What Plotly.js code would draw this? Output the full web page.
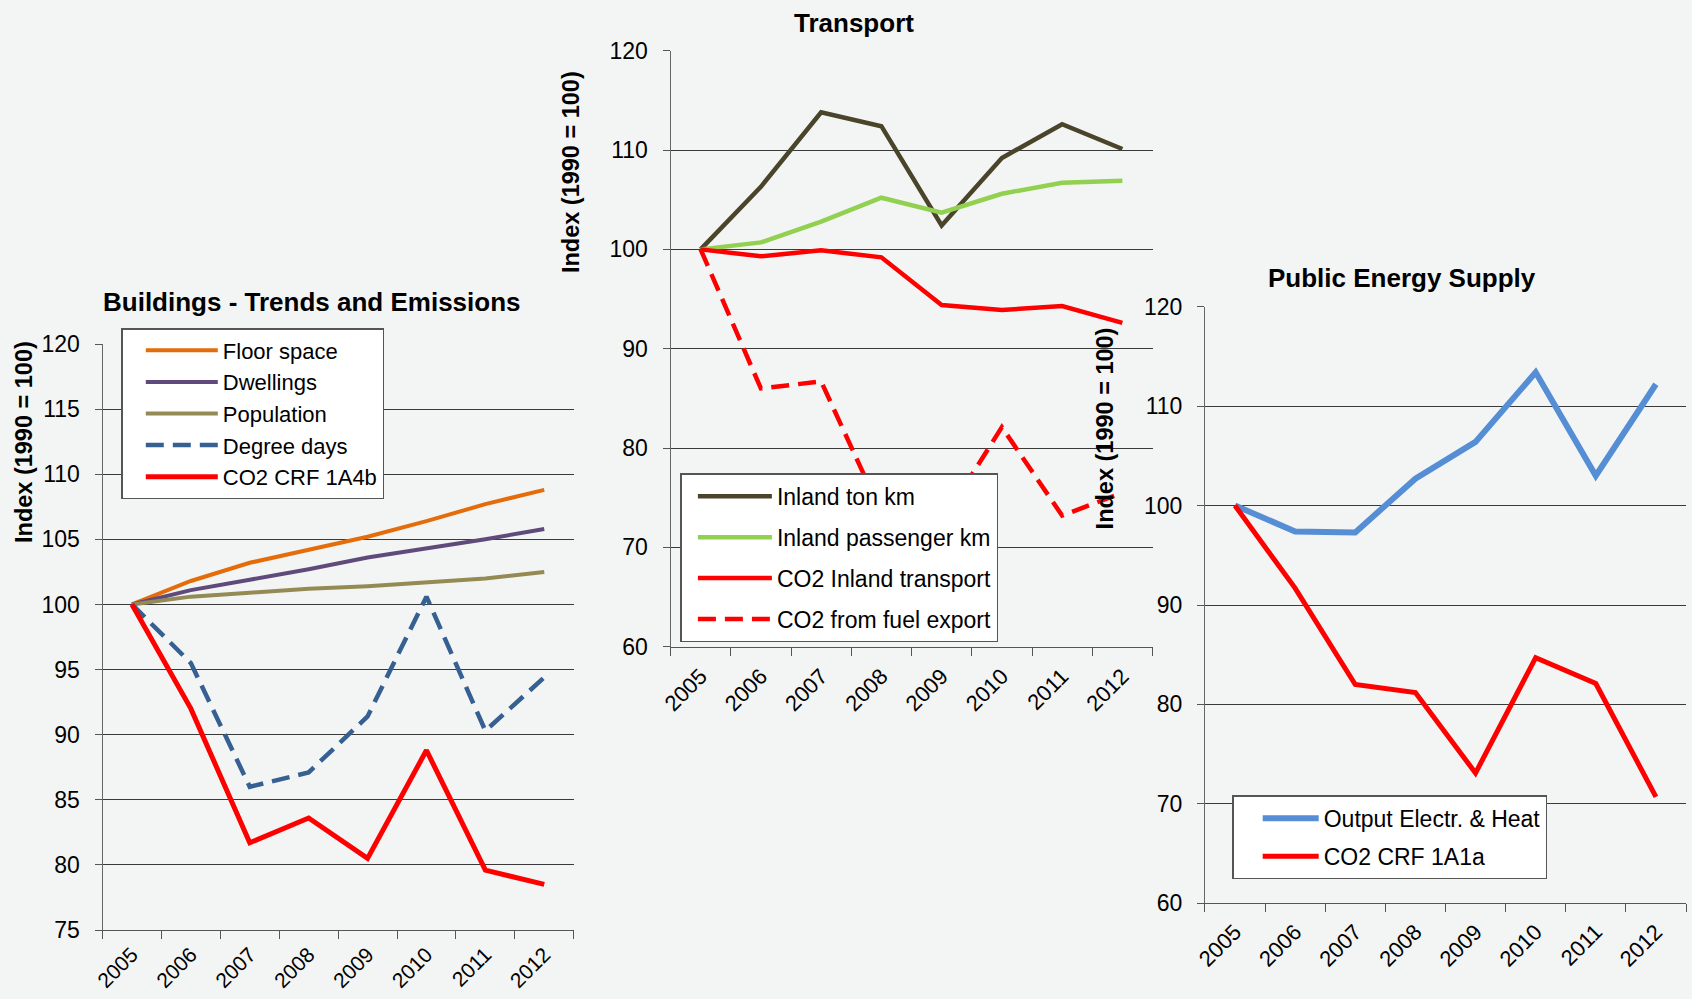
<!DOCTYPE html>
<html>
<head>
<meta charset="utf-8">
<script src="https://cdn.plot.ly/plotly-3.0.1.min.js"></script>
<style>html,body{margin:0;padding:0;background:#f3f5f4;}#chart{width:1692px;height:999px;}</style>
</head>
<body>
<div id="chart"></div>
<script>
// ---- Data (index, 1990 = 100) ----
const years = ['2005','2006','2007','2008','2009','2010','2011','2012'];

// Buildings - Trends and Emissions
const floorSpace   = [100, 101.8, 103.2, 104.2, 105.2, 106.4, 107.7, 108.8];
const dwellings    = [100, 101.1, 101.9, 102.7, 103.6, 104.3, 105.0, 105.8];
const population   = [100, 100.6, 100.9, 101.2, 101.4, 101.7, 102.0, 102.5];
const degreeDays   = [100, 95.5, 86.0, 87.1, 91.4, 100.6, 90.3, 94.4];
const co2Buildings = [100, 92.0, 81.7, 83.6, 80.5, 88.8, 79.6, 78.5];

// Transport
const inlandTonKm   = [100, 106.3, 113.8, 112.4, 102.4, 109.2, 112.6, 110.1];
const inlandPassKm  = [100, 100.7, 102.8, 105.2, 103.7, 105.6, 106.7, 106.9];
const co2Inland     = [100, 99.3, 99.9, 99.2, 94.4, 93.9, 94.3, 92.6];
const co2FuelExport = [100, 86.0, 86.7, 73.5, 72.5, 82.1, 73.2, 75.5];

// Public Energy Supply
const outputElecHeat = [100, 97.4, 97.3, 102.7, 106.4, 113.4, 103.0, 112.2];
const co2Pes         = [100, 91.7, 82.0, 81.2, 73.1, 84.7, 82.1, 70.7];

const titles = ['Buildings - Trends and Emissions', 'Transport', 'Public Energy Supply'];
const yTitle = 'Index (1990 = 100)';

// ---- Layout helpers ----
const W = 1692, H = 999;
const FONT = 'Liberation Sans, Arial, Helvetica, sans-serif';
const px = v => v / W;
const py = v => 1 - v / H;

function tr(y, name, color, width, dash, axis, legend) {
  return {
    x: years, y: y, name: name, type: 'scatter', mode: 'lines',
    line: {color: color, width: width, dash: dash || 'solid'},
    xaxis: 'x' + axis, yaxis: 'y' + axis, legend: legend,
    legendgroup: name, hoverinfo: 'skip'
  };
}

const data = [
  tr(floorSpace, 'Floor space', '#E46C0A', 4, null, '', 'legend'),
  tr(dwellings, 'Dwellings', '#604A7B', 4, null, '', 'legend'),
  tr(population, 'Population', '#948A54', 4, null, '', 'legend'),
  tr(degreeDays, 'Degree days', '#376092', 4.5, '18px,9px', '', 'legend'),
  tr(co2Buildings, 'CO2 CRF 1A4b', '#FF0000', 5, null, '', 'legend'),

  tr(inlandTonKm, 'Inland ton km', '#4A452A', 4.5, null, '2', 'legend2'),
  tr(inlandPassKm, 'Inland passenger km', '#92D050', 4.5, null, '2', 'legend2'),
  tr(co2Inland, 'CO2 Inland transport', '#FF0000', 4.5, null, '2', 'legend2'),
  tr(co2FuelExport, 'CO2 from fuel export', '#FF0000', 4.5, '18px,9px', '2', 'legend2'),

  tr(outputElecHeat, 'Output Electr. & Heat', '#558ED5', 6, null, '3', 'legend3'),
  tr(co2Pes, 'CO2 CRF 1A1a', '#FF0000', 5, null, '3', 'legend3')
];

function xAx(x0, x1, anchor, fsize, standoff) {
  return {
    type: 'category', domain: [px(x0), px(x1)], anchor: anchor,
    range: [-0.5, 7.5], tickson: 'boundaries', ticks: 'outside', ticklen: 8,
    tickcolor: '#555', tickwidth: 1, showline: true, linecolor: '#555', linewidth: 1,
    showgrid: false, tickangle: -45, tickfont: {family: FONT, size: fsize, color: '#000'},
    ticklabelstandoff: standoff, fixedrange: true
  };
}
function yAx(y0, y1, r, dt, anchor) {
  return {
    domain: [py(y1), py(y0)], anchor: anchor, range: r, dtick: dt, tick0: 0,
    ticks: 'outside', ticklen: 7, tickcolor: '#555', tickwidth: 1,
    showline: true, linecolor: '#666', linewidth: 1,
    showgrid: true, gridcolor: '#3a3a3a', gridwidth: 1, zeroline: false,
    tickfont: {family: FONT, size: 23, color: '#000'}, ticklabelstandoff: 10,
    fixedrange: true
  };
}
function leg(x, y, size, gap, indent, itemw) {
  return {
    x: px(x), y: py(y), xanchor: 'left', yanchor: 'top',
    bgcolor: '#ffffff', bordercolor: '#555', borderwidth: 1.5,
    font: {family: FONT, size: size, color: '#000'},
    itemwidth: itemw, indentation: indent,
    tracegroupgap: gap, traceorder: 'grouped'
  };
}
function ann(text, x, y, size, angle) {
  return {
    text: '<b>' + text + '</b>', xref: 'paper', yref: 'paper', x: px(x), y: py(y),
    xanchor: 'center', yanchor: 'middle', showarrow: false, textangle: angle || 0,
    font: {family: FONT, size: size, color: '#000'}
  };
}

const layout = {
  width: W, height: H, autosize: false,
  margin: {l: 0, r: 0, t: 0, b: 0, pad: 0},
  paper_bgcolor: '#f3f5f4', plot_bgcolor: '#f3f5f4',
  font: {family: FONT, color: '#000'},
  xaxis: xAx(102.5, 573.7, 'y', 21, 3),
  yaxis: yAx(344, 930, [75, 120], 5, 'x'),
  xaxis2: xAx(670.5, 1152.5, 'y2', 22, 7),
  yaxis2: yAx(50.7, 646.7, [60, 120], 10, 'x2'),
  xaxis3: xAx(1204.9, 1686, 'y3', 22, 6),
  yaxis3: yAx(306.7, 903.3, [60, 120], 10, 'x3'),
  legend: leg(121.3, 328, 22, 0, 18, 72),
  legend2: leg(680.4, 473.3, 23, 8, 11, 74),
  legend3: leg(1232.2, 795.3, 23, 5, 24, 56),
  showlegend: true,
  annotations: [
    ann(titles[0], 312, 302, 26),
    ann(titles[1], 854.5, 22.7, 26),
    ann(titles[2], 1402, 278.3, 26),
    ann(yTitle, 24, 442, 23.5, -90),
    ann(yTitle, 571.6, 172.5, 23.5, -90),
    ann(yTitle, 1105.4, 428, 23.5, -90)
  ]
};

Plotly.newPlot('chart', data, layout, {staticPlot: true, displayModeBar: false});
</script>
</body>
</html>
